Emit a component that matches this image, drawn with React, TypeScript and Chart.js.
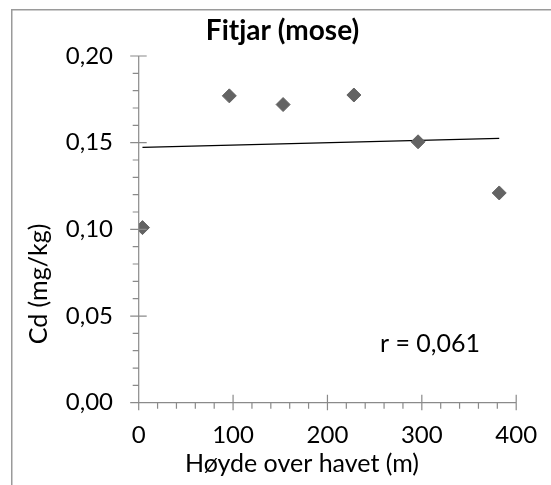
import React, { useEffect, useRef } from "react";
import { Chart, registerables } from "chart.js";

Chart.register(...registerables);

const chartTitle = "Fitjar (mose)";
const xAxisTitle = "Høyde over havet (m)";
const yAxisTitle = "Cd (mg/kg)";
const rLabel = "r = 0,061";

const heights = [4, 96, 153, 228, 296, 382];
const cdValues = [0.101, 0.177, 0.172, 0.1775, 0.1505, 0.121];

const xTicks = [0, 100, 200, 300, 400];
const yTicks = [0, 0.05, 0.1, 0.15, 0.2];
const xMinorStep = 20;
const yMinorStep = 0.01;

const FONT = "Lato, 'Open Sans', sans-serif";

function regression(xs: number[], ys: number[]) {
  const n = xs.length;
  const mx = xs.reduce((a, b) => a + b, 0) / n;
  const my = ys.reduce((a, b) => a + b, 0) / n;
  let sxy = 0;
  let sxx = 0;
  for (let i = 0; i < n; i++) {
    sxy += (xs[i] - mx) * (ys[i] - my);
    sxx += (xs[i] - mx) * (xs[i] - mx);
  }
  const slope = sxy / sxx;
  return { slope, intercept: my - slope * mx };
}

const decorPlugin = {
  id: "decor",
  afterDraw(chart: any) {
    const ctx = chart.ctx;
    const xs = chart.scales.x;
    const ys = chart.scales.y;
    ctx.save();
    // outer frame (cropped)
    ctx.fillStyle = "#9a9a9a";
    ctx.fillRect(11, 9, 1.5, chart.height - 9);
    ctx.fillRect(11, 9, chart.width - 11, 1.5);

    const x0 = xs.getPixelForValue(0);
    const x1 = xs.getPixelForValue(400);
    const y0 = ys.getPixelForValue(0);
    const y1 = ys.getPixelForValue(0.2);

    ctx.strokeStyle = "#8a8a8a";
    ctx.lineWidth = 1.2;
    ctx.beginPath();
    ctx.moveTo(x0, y0);
    ctx.lineTo(x1, y0);
    ctx.moveTo(x0, y0);
    ctx.lineTo(x0, y1);
    // minor ticks
    for (let v = 0; v <= 400 + 1e-9; v += xMinorStep) {
      const px = xs.getPixelForValue(v);
      ctx.moveTo(px, y0);
      ctx.lineTo(px, y0 + 6);
    }
    for (let k = 0; k <= 20; k++) {
      const py = ys.getPixelForValue(k * yMinorStep);
      ctx.moveTo(x0, py);
      ctx.lineTo(x0 - 6, py);
    }
    // major ticks (crossing)
    xTicks.forEach((v) => {
      const px = xs.getPixelForValue(v);
      ctx.moveTo(px, y0 - 8);
      ctx.lineTo(px, y0 + 7.5);
    });
    yTicks.forEach((v) => {
      const py = ys.getPixelForValue(v);
      ctx.moveTo(x0 - 8.5, py);
      ctx.lineTo(x0 + 8, py);
    });
    ctx.stroke();

    // tick labels
    ctx.fillStyle = "#000";
    ctx.font = `24px ${FONT}`;
    ctx.textBaseline = "middle";
    ctx.textAlign = "center";
    xTicks.forEach((v) => {
      ctx.fillText(String(v), xs.getPixelForValue(v), 435.5);
    });
    ctx.textAlign = "right";
    yTicks.forEach((v) => {
      ctx.fillText(v.toFixed(2).replace(".", ","), 113, ys.getPixelForValue(v));
    });

    // axis titles
    ctx.font = `25px ${FONT}`;
    ctx.textAlign = "center";
    ctx.fillText(xAxisTitle, 302, 464);
    ctx.save();
    ctx.translate(39, 284);
    ctx.rotate(-Math.PI / 2);
    ctx.fillText(yAxisTitle, 0, 0);
    ctx.restore();

    // r label
    ctx.fillText(rLabel, 430, 344);

    // chart title
    ctx.font = `bold 28px ${FONT}`;
    ctx.fillText(chartTitle, 282.5, 31);
    ctx.restore();
  },
};

export default function App() {
  const ref = useRef<HTMLCanvasElement | null>(null);
  useEffect(() => {
    if (!ref.current) return;
    const { slope, intercept } = regression(heights, cdValues);
    const minX = Math.min(...heights);
    const maxX = Math.max(...heights);
    const chart = new Chart(ref.current, {
      type: "scatter",
      data: {
        datasets: [
          {
            label: "Trend",
            type: "line",
            data: [
              { x: minX, y: intercept + slope * minX },
              { x: maxX, y: intercept + slope * maxX },
            ],
            borderColor: "#000000",
            borderWidth: 1.2,
            pointRadius: 0,
            fill: false,
            order: 2,
          } as any,
          {
            label: "Cd",
            data: heights.map((h, i) => ({ x: h, y: cdValues[i] })),
            pointStyle: "rectRot",
            pointRadius: 7,
            pointBackgroundColor: "#636363",
            pointBorderColor: "#636363",
            pointBorderWidth: 1,
            order: 1,
          },
        ],
      },
      options: {
        animation: false,
        responsive: true,
        maintainAspectRatio: false,
        layout: { padding: { left: 138.7, top: 56, right: 34.8, bottom: 82.3 } },
        plugins: {
          legend: { display: false },
          title: { display: false },
          tooltip: { enabled: false },
        },
        scales: {
          x: {
            type: "linear",
            min: 0,
            max: 400,
            display: true,
            grid: { display: false, drawTicks: false },
            border: { display: false },
            ticks: { display: false },
            afterFit: (s: any) => {
              s.height = 0;
            },
          },
          y: {
            type: "linear",
            min: 0,
            max: 0.2,
            display: true,
            grid: { display: false, drawTicks: false },
            border: { display: false },
            ticks: { display: false },
            afterFit: (s: any) => {
              s.width = 0;
            },
          },
        },
      },
      plugins: [decorPlugin],
    });
    return () => chart.destroy();
  }, []);
  return (
    <div style={{ position: "fixed", left: 0, top: 0, width: 551, height: 485, background: "#fff" }}>
      <canvas ref={ref} />
    </div>
  );
}
